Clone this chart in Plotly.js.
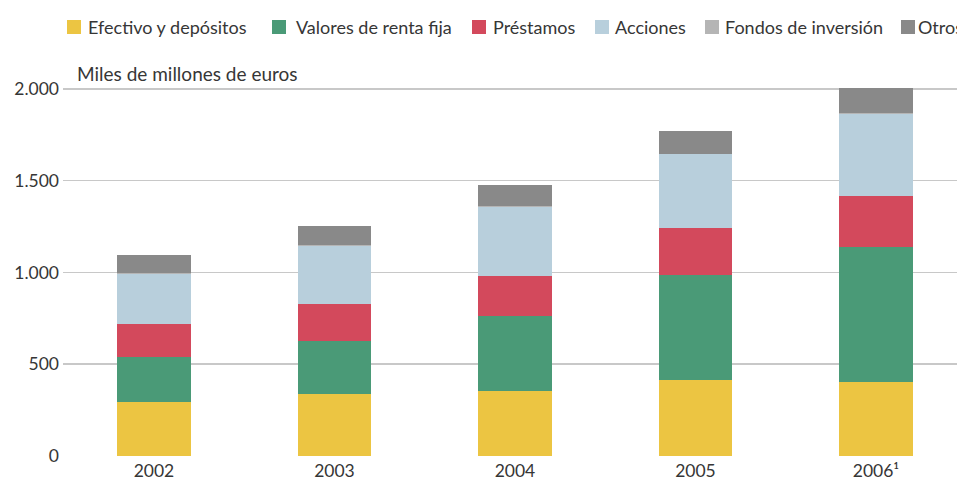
<!DOCTYPE html>
<html>
<head>
<meta charset="utf-8">
<script src="https://cdn.plot.ly/plotly-3.0.1.min.js"></script>
<style>html,body{margin:0;padding:0;background:#fff;}#chart{width:957px;height:479px;}</style>
</head>
<body>
<div id="chart"></div>
<script>
const years = ['2002', '2003', '2004', '2005', '2006¹'];
const efectivo = [294, 340, 354, 413, 405];
const rentaFija = [247, 289, 406, 572, 735];
const prestamos = [177, 200, 221, 257, 278];
const acciones = [276, 317, 378, 401, 447];
const fondos = [4, 4, 4, 4, 4];
const otros = [96, 104, 111, 125, 134];

const seriesNames = ['Efectivo y depósitos', 'Valores de renta fija', 'Préstamos', 'Acciones', 'Fondos de inversión', 'Otros'];
const seriesValues = [efectivo, rentaFija, prestamos, acciones, fondos, otros];
const seriesColors = ['#ECC542', '#4A9A77', '#D3495C', '#B8CFDC', '#B5B5B5', '#898989'];

const FONT = 'Lato, "Open Sans", sans-serif';
const TXT = '#363636';

// plot area geometry (pixels)
const W = 957, H = 479, ML = 63, MR = 0, MT = 87, MB = 23;
const PW = W - ML - MR, PH = H - MT - MB;
const px2x = p => (p - ML) / PW;
const px2y = p => (H - MB - p) / PH;

const traces = seriesNames.map((n, i) => ({
  type: 'bar',
  name: n,
  x: years,
  y: seriesValues[i],
  marker: {color: seriesColors[i], line: {width: 0}},
  showlegend: false,
  hoverinfo: 'skip'
}));

// custom legend (square swatches + labels) laid out like the reference
const legSquareX = [67, 272, 472, 595, 705, 901];
const legTextX = [86, 294, 491, 613, 723, 916];
const legY0 = 20, legY1 = 34, legYc = 27;

const shapes = seriesNames.map((n, i) => ({
  type: 'rect', xref: 'paper', yref: 'paper',
  x0: px2x(legSquareX[i]), x1: px2x(legSquareX[i] + 14),
  y0: px2y(legY1), y1: px2y(legY0),
  fillcolor: seriesColors[i], line: {width: 0}
}));

const annotations = seriesNames.map((n, i) => ({
  text: n, xref: 'paper', yref: 'paper',
  x: px2x(legTextX[i]), y: px2y(legYc),
  xanchor: 'left', yanchor: 'middle', showarrow: false,
  font: {family: FONT, size: 18, color: TXT}
}));

annotations.push({
  text: 'Miles de millones de euros',
  xref: 'paper', yref: 'paper',
  x: px2x(75), y: px2y(73),
  xanchor: 'left', yanchor: 'middle',
  showarrow: false,
  font: {family: FONT, size: 19, color: TXT}
});

const layout = {
  width: W, height: H,
  margin: {l: ML, r: MR, t: MT, b: MB, pad: 0},
  barmode: 'stack',
  bargap: 0.595,
  separators: ',.',
  paper_bgcolor: '#ffffff',
  plot_bgcolor: '#ffffff',
  font: {family: FONT, size: 17, color: TXT},
  showlegend: false,
  xaxis: {
    type: 'category',
    range: [-0.504, 4.449],
    showgrid: false,
    zeroline: false,
    showline: false,
    ticks: '',
    ticklabelstandoff: 2,
    tickfont: {family: FONT, size: 17.5, color: TXT},
    fixedrange: true
  },
  yaxis: {
    range: [0, 2010],
    tickvals: [0, 500, 1000, 1500, 2000],
    tickformat: ',d',
    showgrid: true,
    gridcolor: '#c8c8c8',
    gridwidth: 1.5,
    zeroline: false,
    showline: false,
    ticks: '',
    ticklabelstandoff: 3,
    tickfont: {family: FONT, size: 17.5, color: TXT},
    fixedrange: true
  },
  shapes: shapes,
  annotations: annotations
};

Plotly.newPlot('chart', traces, layout, {staticPlot: true, displayModeBar: false});
</script>
</body>
</html>
